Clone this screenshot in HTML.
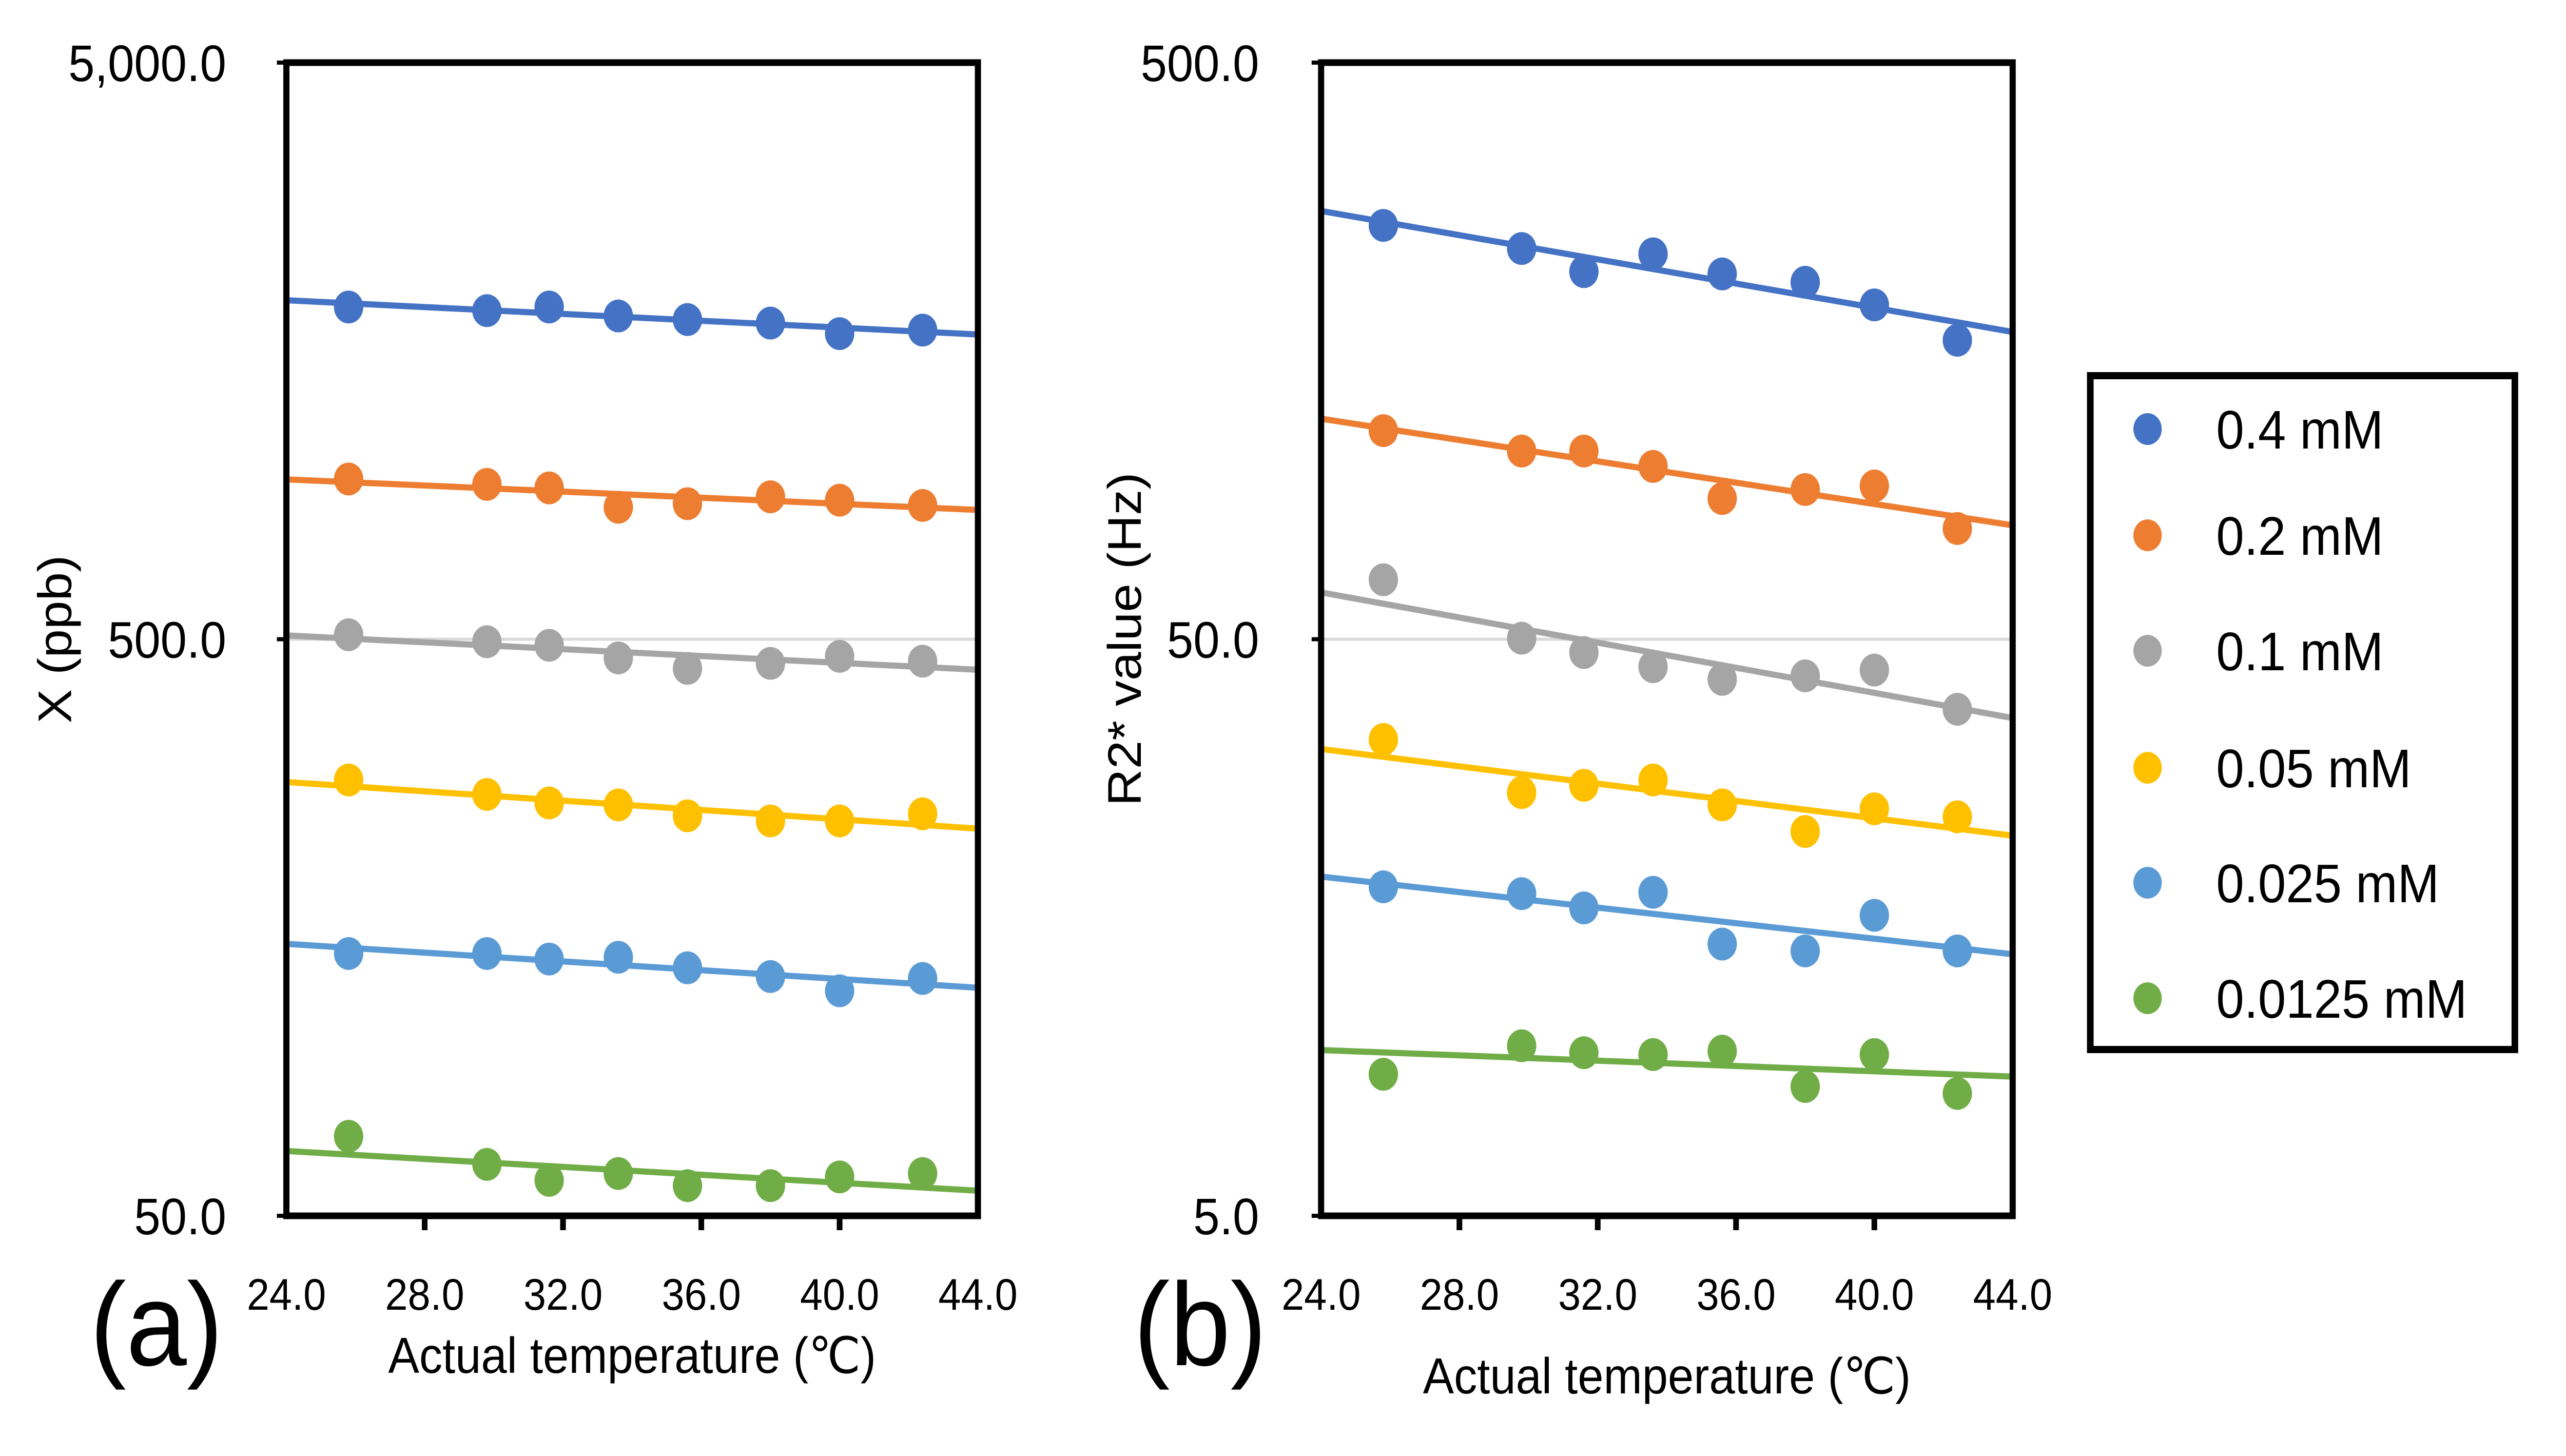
<!DOCTYPE html>
<html><head><meta charset="utf-8">
<meta name="viewport" content="width=device-width">
<style>
html,body{margin:0;padding:0;background:#fff;width:100%;height:100%;overflow:hidden;}
svg{display:block;width:100vw;height:100vh;}
text{font-family:"Liberation Sans",Arial,sans-serif;fill:#000;}
</style></head>
<body>
<svg id="chart" viewBox="0 0 5421 2837" preserveAspectRatio="none" xmlns="http://www.w3.org/2000/svg">
<rect x="0" y="0" width="5421" height="2837" fill="#fff"/>
</svg>
<script>
const temps = [25.8, 29.8, 31.6, 33.6, 35.6, 38.0, 40.0, 42.4];
const seriesNames = ["0.4 mM","0.2 mM","0.1 mM","0.05 mM","0.025 mM","0.0125 mM"];
const seriesColors = ["#4472C4","#ED7D31","#A5A5A5","#FFC000","#5B9BD5","#70AD47"];
const chiBlue = [1884,1857,1884,1818,1792,1767,1694,1718];
const chiOrange = [948,928,915,847,859,883,871,853];
const chiGray = [509,495,488,464,445,454,467,458];
const chiYellow = [285,269,260,258,247,242,242,249];
const chiLightBlue = [142.5,142.5,139.4,140.4,134.6,130,122.8,129];
const chiGreen = [68.7,61.4,57.6,59.2,56.4,56.4,58.4,59.2];
const r2Blue = [261,238,217,233,215,208,190,165];
const r2Orange = [115,106,106,99.7,87.7,90.9,92.2,77.8];
const r2Gray = [63.4,50.2,47.4,44.8,42.6,43.2,44.2,37.8];
const r2Yellow = [33.5,27.1,27.9,28.5,25.8,23.2,25.4,24.6];
const r2LightBlue = [18.6,18.1,17.1,18.2,14.8,14.4,16.6,14.4];
const r2Green = [8.8,9.86,9.59,9.52,9.65,8.38,9.52,8.15];
const xTicks = [24,28,32,36,40,44];
const xTickLabels = ["24.0","28.0","32.0","36.0","40.0","44.0"];
const aYTicks = [50,500,5000];
const aYTickLabels = ["50.0","500.0","5,000.0"];
const bYTicks = [5,50,500];
const bYTickLabels = ["5.0","50.0","500.0"];

const NS = "http://www.w3.org/2000/svg";
const svg = document.getElementById("chart");
function mk(tag, attrs, parent){
  const e = document.createElementNS(NS, tag);
  for (const k in attrs) e.setAttribute(k, attrs[k]);
  (parent||svg).appendChild(e);
  return e;
}

function drawPanel(cfg){
  const g = mk("g", {});
  
  
  const L=cfg.left,R=cfg.right,T=cfg.top,B=cfg.bottom;
  const lmin=Math.log10(cfg.ymin), lmax=Math.log10(cfg.ymax);
  const xs = t => L + (t-24)/(44-24)*(R-L);
  const ys = v => B - (Math.log10(v)-lmin)/(lmax-lmin)*(B-T);
  const grid = mk("line",{x1:L,x2:R,y1:ys(cfg.yTicks[1]),y2:ys(cfg.yTicks[1]),stroke:"#d9d9d9","stroke-width":6},g);
  
  
  cfg.series.forEach((vals,si)=>{
    const sg = mk("g",{},g);
    
    
    const n=vals.length; let sx=0,sy=0,sxx=0,sxy=0;
    for(let i=0;i<n;i++){const x=temps[i],y=Math.log10(vals[i]);sx+=x;sy+=y;sxx+=x*x;sxy+=x*y;}
    const b=(n*sxy-sx*sy)/(n*sxx-sx*sx), a=(sy-b*sx)/n;
    const f = t => Math.pow(10, a+b*t);
    const ln = mk("line",{x1:xs(24),y1:ys(f(24)),x2:xs(44),y2:ys(f(44)),stroke:seriesColors[si],"stroke-width":12},sg);
    
    
    vals.forEach((v,i)=>{
      const c = mk("ellipse",{cx:xs(temps[i]),cy:ys(v),rx:31,ry:32,fill:seriesColors[si]},sg);
      
      
    });
  });
  const fr = mk("rect",{x:L,y:T,width:R-L,height:B-T,fill:"none",stroke:"#000","stroke-width":13},g);
  
  
  xTicks.forEach((t,i)=>{
    if(i>0&&i<xTicks.length-1){
      const tk = mk("line",{x1:xs(t),x2:xs(t),y1:B,y2:B+28,stroke:"#000","stroke-width":12},g);
      
      
    }
    const tx = mk("text",{x:xs(t),y:2552,"font-size":86,"text-anchor":"middle"},g);
    tx.textContent = xTickLabels[i];
    
    
  });
  cfg.yTicks.forEach((v,i)=>{
    const tk = mk("line",{x1:L-20,x2:L,y1:ys(v),y2:ys(v),stroke:"#000","stroke-width":8},g);
    
    
    const tx = mk("text",{x:cfg.yLabelRight,y:ys(v)+36,"font-size":100,"text-anchor":"end"},g);
    tx.textContent = cfg.yTickLabels[i];
    
    
  });
  const xt = mk("text",{x:(L+R)/2,y:cfg.xTitleY,"font-size":98,"text-anchor":"middle"},g);
  xt.textContent = "Actual temperature (\u2103)";
  
  
  const yt = mk("text",{x:0,y:0,"font-size":100,"text-anchor":"middle",transform:`translate(${cfg.yTitleX},${(T+B)/2}) rotate(-90)`},g);
  yt.textContent = cfg.yTitle;
  
  
  const pl = mk("text",{x:cfg.panelX,y:2660,"font-size":230},g);
  pl.textContent = cfg.panelLabel;
  
  
}

drawPanel({name:"panel-a",left:605,right:2066,top:122,bottom:2369,ymin:50,ymax:5000,
  yTicks:aYTicks,yTickLabels:aYTickLabels,yLabelRight:478,xTitleY:2675,yTitleX:150,yTitle:"X (ppb)",
  panelX:190,panelLabel:"(a)",
  series:[chiBlue,chiOrange,chiGray,chiYellow,chiLightBlue,chiGreen]});
drawPanel({name:"panel-b",left:2791,right:4252,top:122,bottom:2369,ymin:5,ymax:500,
  yTicks:bYTicks,yTickLabels:bYTickLabels,yLabelRight:2660,xTitleY:2715,yTitleX:2410,yTitle:"R2* value (Hz)",
  panelX:2395,panelLabel:"(b)",
  series:[r2Blue,r2Orange,r2Gray,r2Yellow,r2LightBlue,r2Green]});

const lg = mk("g",{});


const lb = mk("rect",{x:4416,y:732,width:897,height:1313,fill:"#fff",stroke:"#000","stroke-width":14},lg);


const legendY = [836,1043,1268,1496,1720,1945];
seriesNames.forEach((nm,i)=>{
  const eg = mk("g",{},lg);
  
  
  const m = mk("ellipse",{cx:4537,cy:legendY[i],rx:30,ry:31,fill:seriesColors[i]},eg);
  
  
  const t = mk("text",{x:4682,y:legendY[i]+38,"font-size":106},eg);
  t.textContent = nm;
  
  
});
</script>
</body></html>
